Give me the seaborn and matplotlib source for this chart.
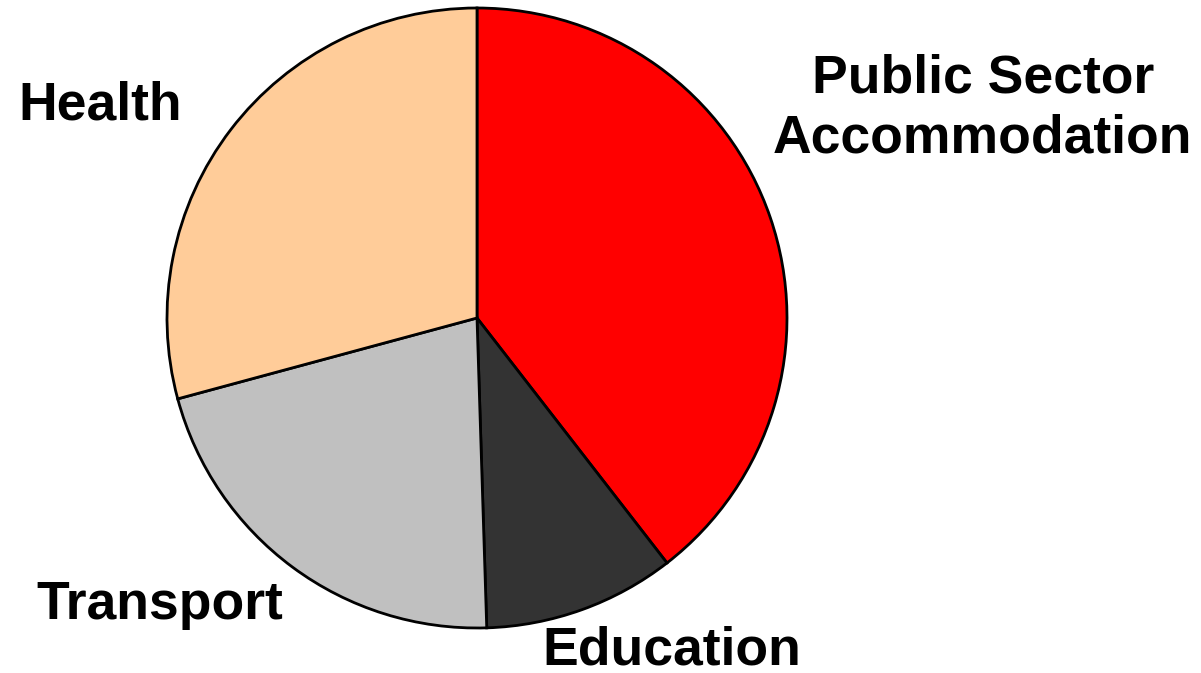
import seaborn as sns
import matplotlib.pyplot as plt

categories = ['Public Sector\nAccommodation', 'Education', 'Transport', 'Health']
shares = [39.5, 10.0, 21.3, 29.2]
colours = ['#FF0000', '#333333', '#C0C0C0', '#FFCC99']

sns.set_theme(style='white')
plt.rcParams['font.family'] = ['Liberation Sans', 'DejaVu Sans']

fig = plt.figure(figsize=(12.01, 6.73), dpi=100)
ax = fig.add_axes([0, 0, 1, 1])

ax.pie(shares, colors=colours, startangle=90, counterclock=False,
       wedgeprops={'edgecolor': 'black', 'linewidth': 2})

# labels placed beside the pie like the original
label_pos = [(1.632, 0.677), (0.629, -1.071), (-1.023, -0.926), (-1.216, 0.687)]
for name, (x, y) in zip(categories, label_pos):
    ax.text(x, y, name, ha='center', va='center', fontsize=38.5,
            fontweight='bold', color='black', linespacing=1.25)

ax.set_xlim(-477 / 310, (1201 - 477) / 310)
ax.set_ylim((318 - 673) / 310, 318 / 310)
ax.set_aspect('equal')
ax.axis('off')

plt.savefig('out.png', dpi=100)
